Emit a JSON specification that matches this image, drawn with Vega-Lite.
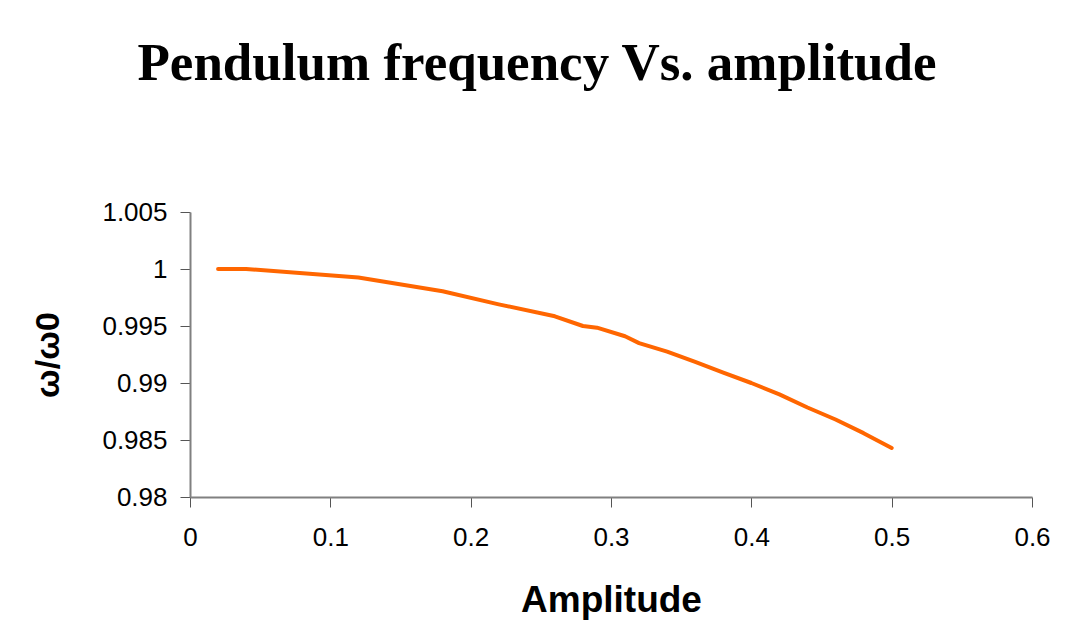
{
  "$schema": "https://vega.github.io/schema/vega-lite/v6.json",
  "width": 842,
  "height": 285,
  "autosize": {"type": "none"},
  "padding": {"left": 190, "top": 212, "right": 41, "bottom": 141},
  "background": "white",
  "title": {
    "text": "Pendulum frequency Vs. amplitude",
    "font": "Liberation Serif",
    "fontSize": 53,
    "fontWeight": "bold",
    "color": "black",
    "anchor": "middle",
    "dx": -74,
    "offset": 108
  },
  "data": {
    "values": [
      {"amplitude": 0.02, "ratio": 1.0},
      {"amplitude": 0.04, "ratio": 1.0},
      {"amplitude": 0.12, "ratio": 0.99925},
      {"amplitude": 0.18, "ratio": 0.99805},
      {"amplitude": 0.22, "ratio": 0.9969},
      {"amplitude": 0.26, "ratio": 0.99585},
      {"amplitude": 0.28, "ratio": 0.9950},
      {"amplitude": 0.29, "ratio": 0.99485},
      {"amplitude": 0.31, "ratio": 0.9941},
      {"amplitude": 0.32, "ratio": 0.9935},
      {"amplitude": 0.34, "ratio": 0.99275},
      {"amplitude": 0.36, "ratio": 0.99185},
      {"amplitude": 0.38, "ratio": 0.9909},
      {"amplitude": 0.40, "ratio": 0.9900},
      {"amplitude": 0.42, "ratio": 0.9890},
      {"amplitude": 0.44, "ratio": 0.98785},
      {"amplitude": 0.46, "ratio": 0.9868},
      {"amplitude": 0.48, "ratio": 0.9856},
      {"amplitude": 0.50, "ratio": 0.9843}
    ]
  },
  "mark": {"type": "line", "color": "#FF6600", "strokeWidth": 4, "strokeJoin": "round", "strokeCap": "round"},
  "encoding": {
    "x": {
      "field": "amplitude",
      "type": "quantitative",
      "scale": {"domain": [0, 0.6], "nice": false, "zero": false},
      "axis": {
        "title": "Amplitude",
        "values": [0, 0.1, 0.2, 0.3, 0.4, 0.5, 0.6],
        "format": ".1~f",
        "labelFontSize": 26,
        "labelPadding": 17,
        "titleFontSize": 37,
        "titlePadding": 32
      }
    },
    "y": {
      "field": "ratio",
      "type": "quantitative",
      "scale": {"domain": [0.98, 1.005], "nice": false, "zero": false},
      "axis": {
        "title": "ω/ω0",
        "values": [0.98, 0.985, 0.99, 0.995, 1, 1.005],
        "format": ".3~f",
        "labelFontSize": 26,
        "labelPadding": 13,
        "titleFontSize": 34,
        "titlePadding": 36
      }
    }
  },
  "config": {
    "view": {"stroke": null},
    "axis": {
      "grid": false,
      "domainColor": "#808080",
      "domainWidth": 2,
      "tickColor": "#555555",
      "tickWidth": 1,
      "tickSize": 10,
      "labelFont": "Liberation Sans",
      "labelColor": "black",
      "titleFont": "Liberation Sans",
      "titleFontWeight": "bold",
      "titleColor": "black",
      "labelFlush": false,
      "labelOverlap": false
    }
  }
}
